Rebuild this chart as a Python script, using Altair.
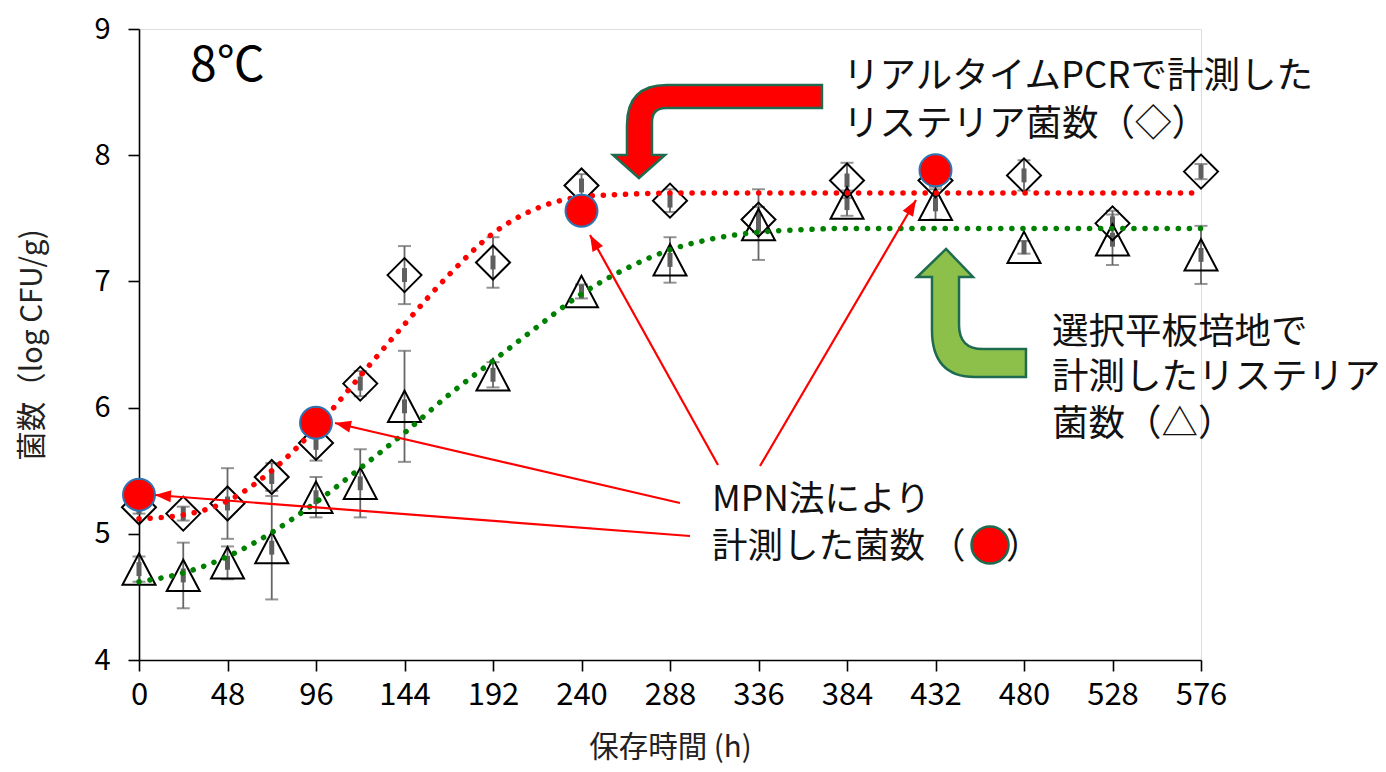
import math
import altair as alt
import pandas as pd

# ---------------- data ----------------
hours = [0, 24, 48, 72, 96, 120, 144, 192, 240, 288, 336, 384, 432, 480, 528, 576]
pcr = [5.21, 5.16, 5.24, 5.45, 5.72, 6.19, 7.05, 7.15, 7.76, 7.64, 7.49, 7.80, 7.80, 7.84, 7.46, 7.87]
pcr_err = [0.05, 0.055, 0.28, 0.11, 0.14, 0.10, 0.23, 0.20, 0.09, 0.09, 0.10, 0.14, 0.05, 0.12, 0.10, 0.06]
plate = [4.72, 4.67, 4.77, 4.89, 5.29, 5.40, 6.01, 6.26, 6.92, 7.17, 7.45, 7.62, 7.61, 7.27, 7.33, 7.21]
plate_err = [0.10, 0.26, 0.13, 0.41, 0.16, 0.27, 0.44, 0.10, 0.055, 0.18, 0.28, 0.10, 0.12, 0.05, 0.20, 0.23]

mpn_hours = [0, 96, 240, 432]
mpn = [5.31, 5.88, 7.56, 7.88]

fit_hours = [0, 24, 48, 72, 96, 120, 144, 168, 192, 216, 240, 264, 288,
             312, 336, 360, 384, 408, 432, 456, 480, 504, 528, 552, 576]
pcr_fit = [5.12, 5.15, 5.26, 5.50, 5.84, 6.25, 6.66, 7.05, 7.38, 7.58, 7.67, 7.69, 7.70,
           7.70, 7.70, 7.70, 7.70, 7.70, 7.70, 7.70, 7.70, 7.70, 7.70, 7.70, 7.70]
plate_fit = [4.62, 4.69, 4.82, 5.01, 5.25, 5.52, 5.80, 6.10, 6.37, 6.64, 6.90, 7.10, 7.25,
             7.34, 7.39, 7.41, 7.42, 7.42, 7.42, 7.42, 7.42, 7.42, 7.42, 7.42, 7.42]

x_ticks = [0, 48, 96, 144, 192, 240, 288, 336, 384, 432, 480, 528, 576]
y_ticks = [4, 5, 6, 7, 8, 9]

# ---------------- layout ----------------
W, H = 1062, 631
PAD = {"left": 131, "top": 21, "right": 177, "bottom": 104}
XD, YD = [0, 576], [4, 9]
FONT = "Noto Sans CJK JP"


def px2x(px):
    return (px - 139) * (XD[1] - XD[0]) / W


def px2y(py):
    return YD[1] - (py - 29) * (YD[1] - YD[0]) / H


xs = alt.Scale(domain=XD, nice=False, zero=False)
ys = alt.Scale(domain=YD, nice=False, zero=False)
x_axis = alt.Axis(values=x_ticks, grid=False, tickSize=11, tickWidth=1.6, domainWidth=1.6,
                  tickColor="black", domainColor="black", labelFontSize=31, labelColor="black",
                  labelPadding=9, labelFont=FONT, labelFlush=False, labelOverlap=False,
                  labelBound=False,
                  title="保存時間 (h)", titleFont=FONT,
                  titleFontSize=29.5, titleFontWeight="normal", titleColor="#222222",
                  titleY=87, titleBaseline="middle")
y_axis = alt.Axis(values=y_ticks, grid=False, tickSize=11, tickWidth=1.6, domainWidth=1.6,
                  tickColor="black", domainColor="black", labelFontSize=29, labelColor="black",
                  labelPadding=18, labelFont=FONT, labelFlush=False, labelOverlap=False,
                  labelBound=False,
                  title="菌数（log CFU/g)", titleFont=FONT,
                  titleFontSize=29.5, titleFontWeight="normal", titleColor="#222222",
                  titleX=-107, titleBaseline="middle")

X = alt.X("x:Q", scale=xs, axis=x_axis)
Y = alt.Y("y:Q", scale=ys, axis=y_axis)

# ---------------- tables ----------------
pts = pd.DataFrame({
    "x": hours * 2,
    "y": pcr + plate,
    "e": pcr_err + plate_err,
    "s": ["pcr"] * len(hours) + ["plate"] * len(hours),
})
pts["lo"] = pts["y"] - pts["e"]
pts["hi"] = pts["y"] + pts["e"]
pts["mlo"] = pts["y"] - 0.055
pts["mhi"] = pts["y"] + 0.055

fits = pd.DataFrame({
    "x": fit_hours * 2,
    "y": pcr_fit + plate_fit,
    "s": ["pcr"] * len(fit_hours) + ["plate"] * len(fit_hours),
})
mpn_df = pd.DataFrame({"x": mpn_hours, "y": mpn})

err = alt.Chart(pts).mark_rule(color="#666666", strokeWidth=1.8).encode(
    x=X, y=alt.Y("lo:Q", scale=ys, axis=y_axis), y2="hi:Q")
cap_lo = alt.Chart(pts).mark_tick(color="#666666", orient="horizontal", size=13, thickness=2).encode(
    x=X, y=alt.Y("lo:Q", scale=ys, axis=y_axis))
cap_hi = alt.Chart(pts).mark_tick(color="#666666", orient="horizontal", size=13, thickness=2).encode(
    x=X, y=alt.Y("hi:Q", scale=ys, axis=y_axis))
mid = alt.Chart(pts).mark_rule(color="#5f5f5f", strokeWidth=5).encode(
    x=X, y=alt.Y("mlo:Q", scale=ys, axis=y_axis), y2="mhi:Q")

diam = alt.Chart(pts).transform_filter(alt.datum.s == "pcr").mark_point(
    shape="diamond", size=1156, filled=False, stroke="black", strokeWidth=2, opacity=1).encode(x=X, y=Y)
tri = alt.Chart(pts).transform_filter(alt.datum.s == "plate").mark_point(
    shape="M0,-0.95L-1,0.95L1,0.95Z", size=1089, filled=False, stroke="black", strokeWidth=2,
    opacity=1).encode(x=X, y=Y)

dots = dict(strokeDash=[0.1, 11], strokeCap="round", strokeWidth=5.5, interpolate="monotone")
red_fit = alt.Chart(fits).transform_filter(alt.datum.s == "pcr").mark_line(color="#ff0000", **dots).encode(x=X, y=Y)
green_fit = alt.Chart(fits).transform_filter(alt.datum.s == "plate").mark_line(color="#008000", **dots).encode(x=X, y=Y)

circles = alt.Chart(mpn_df).mark_point(shape="circle", size=1024, filled=True, fill="#ff0000",
                                        stroke="#2e75b6", strokeWidth=2, opacity=1).encode(x=X, y=Y)

# ---------------- thin red arrows (text -> MPN points) ----------------
arrow_start = [(690, 536), (680, 503), (718, 465), (760, 466)]
arrow_tip = [(155, 495), (335, 423), (590, 235), (916, 200)]
arr = []
for (sx, sy), (tx, ty) in zip(arrow_start, arrow_tip):
    ang = math.degrees(math.atan2(tx - sx, -(ty - sy))) % 360
    arr.append({"x": px2x(sx), "y": px2y(sy), "x2": px2x(tx), "y2": px2y(ty), "ang": ang})
arr_df = pd.DataFrame(arr)
arrow_lines = alt.Chart(arr_df).mark_rule(color="#ff0000", strokeWidth=2.2).encode(
    x=X, y=Y, x2="x2:Q", y2="y2:Q")
arrow_heads = alt.Chart(arr_df).mark_point(shape="M0,0L0.75,2L-0.75,2Z", size=256, filled=True,
                                           fill="#ff0000", strokeWidth=0, opacity=1).encode(
    x=alt.X("x2:Q", scale=xs, axis=x_axis), y=alt.Y("y2:Q", scale=ys, axis=y_axis),
    angle=alt.Angle("ang:Q", scale=None))


# ---------------- big bent arrows ----------------
def shape_path(cmds, cx, cy, r):
    out = []
    for c in cmds:
        if isinstance(c, str):
            out.append(c)
        else:
            out.append(f"{(c[0] - cx) / r:.3f},{(c[1] - cy) / r:.3f}")
    return " ".join(out)


red_cmds = ["M", (822, 85), "L", (667, 85), "Q", (627, 85), (627, 125), "L", (627, 155),
            "L", (613, 155), "L", (639, 178), "L", (665, 155), "L", (652, 155), "L", (652, 122),
            "Q", (652, 108), (666, 108), "L", (822, 108), "Z"]
green_cmds = ["M", (946, 249), "L", (973, 277), "L", (959, 277), "L", (959, 325),
              "Q", (959, 349), (983, 349), "L", (1026, 349), "L", (1026, 377), "L", (975, 377),
              "Q", (932, 377), (932, 330), "L", (932, 277), "L", (917, 277), "Z"]
red_path = shape_path(red_cmds, 717.5, 131.5, 105)
green_path = shape_path(green_cmds, 971.5, 313, 65)

big_red = alt.Chart(pd.DataFrame({"x": [px2x(717.5)], "y": [px2y(131.5)]})).mark_point(
    shape=red_path, size=210 ** 2, filled=True, fill="#ff0000", stroke="#1e6b4f",
    strokeWidth=2.5, opacity=1).encode(x=X, y=Y)
big_green = alt.Chart(pd.DataFrame({"x": [px2x(971.5)], "y": [px2y(313)]})).mark_point(
    shape=green_path, size=130 ** 2, filled=True, fill="#8cc04a", stroke="#1e6b4f",
    strokeWidth=2.5, opacity=1).encode(x=X, y=Y)

# ---------------- text annotations ----------------
ann_text = ["リアルタイムPCRで計測した", "リステリア菌数（◇）", "選択平板培地で", "計測したリステリア",
            "菌数（△）"]
ann_px = [(843, 77), (843, 125), (1052, 333), (1052, 378), (1052, 425)]
ann_df = pd.DataFrame({"x": [px2x(p[0]) for p in ann_px], "y": [px2y(p[1]) for p in ann_px],
                       "t": ann_text})
ann = alt.Chart(ann_df).mark_text(align="left", baseline="middle", font=FONT, fontSize=36.5,
                                  color="#111111").encode(x=X, y=Y, text="t:N")

mpn_text = ["MPN法により", "計測した菌数", "（", "）"]
mpn_px = [(712, 500), (712, 547), (930, 547), (1006, 547)]
mpn_txt_df = pd.DataFrame({"x": [px2x(p[0]) for p in mpn_px], "y": [px2y(p[1]) for p in mpn_px],
                           "t": mpn_text})
mpn_ann = alt.Chart(mpn_txt_df).mark_text(align="left", baseline="middle", font=FONT, fontSize=35.5,
                                          color="#111111").encode(x=X, y=Y, text="t:N")

temp_df = pd.DataFrame({"x": [px2x(190)], "y": [px2y(67)], "t": ["8℃"]})
temp = alt.Chart(temp_df).mark_text(align="left", baseline="middle", font=FONT, fontSize=48,
                                    color="black").encode(x=X, y=Y, text="t:N")

key_df = pd.DataFrame({"x": [px2x(990)], "y": [px2y(545)]})
key_circle = alt.Chart(key_df).mark_point(shape="circle", size=37 ** 2, filled=True, fill="#ff0000",
                                          stroke="#1e6b4f", strokeWidth=2.5, opacity=1).encode(x=X, y=Y)

chart = alt.layer(
    err, cap_lo, cap_hi, mid, diam, tri, red_fit, green_fit, circles,
    arrow_lines, arrow_heads, big_red, big_green, ann, mpn_ann, temp, key_circle,
).properties(
    width=W, height=H, padding=PAD, autosize=alt.AutoSizeParams(type="none"),
    background="white",
).configure_view(stroke=None).configure(font=FONT)

chart.save("out.html", embed_options={"renderer": "svg", "actions": False})
